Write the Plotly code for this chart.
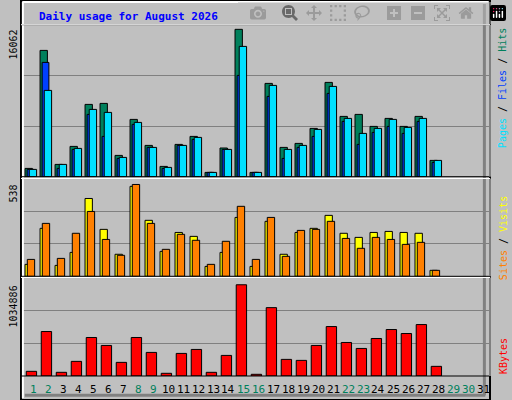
import plotly.graph_objects as go

days = list(range(1, 29))
all_days = list(range(1, 32))
hits = [905, 13767, 1341, 3303, 7881, 7990, 2322, 6246, 3412, 1123, 3521, 4393, 469, 3128, 16062, 469, 10170, 3194, 3630, 5265, 10279, 6573, 6791, 5483, 6355, 5483, 6573, 1777]
files = [796, 12459, 905, 2976, 6791, 4393, 1995, 5701, 3194, 905, 3412, 4066, 469, 2976, 11042, 469, 8753, 1995, 3194, 4393, 9080, 6028, 3521, 4829, 5483, 4720, 6028, 1559]
pages = [796, 9407, 1341, 3085, 7336, 7009, 2104, 5919, 3194, 1014, 3412, 4284, 469, 2976, 14203, 469, 9952, 2976, 3412, 5156, 9843, 6355, 4720, 5265, 6246, 5374, 6355, 1777]
visits = [70, 281, 64, 140, 456, 275, 129, 527, 328, 146, 257, 234, 58, 140, 345, 58, 322, 129, 257, 281, 357, 252, 228, 257, 263, 257, 252, 35]
sites = [99, 310, 105, 252, 380, 216, 123, 538, 310, 158, 246, 211, 70, 205, 410, 99, 345, 117, 269, 275, 322, 222, 164, 228, 216, 187, 199, 35]
kbytes = [53000, 504500, 41800, 165900, 436800, 346500, 154600, 436800, 267500, 30500, 256200, 301300, 41800, 233600, 1034886, 19200, 775400, 188500, 177200, 346500, 560900, 380300, 312600, 425500, 527100, 481900, 583500, 109500]
weekend = {1, 2, 8, 9, 15, 16, 22, 23, 29, 30}

H = 400.0
def dom(top, bot):
    return [1 - bot / H, 1 - top / H]

fig = go.Figure()
line = dict(color="black", width=1)
fig.add_bar(x=days, y=hits, offset=-0.55, width=0.49, marker=dict(color="#00805c", line=line), yaxis="y")
fig.add_bar(x=days, y=files, offset=-0.41, width=0.45, marker=dict(color="#0040ff", line=line), yaxis="y")
fig.add_bar(x=days, y=pages, offset=-0.27, width=0.49, marker=dict(color="#00e0ff", line=line), yaxis="y")
fig.add_bar(x=days, y=visits, offset=-0.55, width=0.49, marker=dict(color="#ffff00", line=line), xaxis="x2", yaxis="y2")
fig.add_bar(x=days, y=sites, offset=-0.4, width=0.49, marker=dict(color="#ff8000", line=line), xaxis="x2", yaxis="y2")
fig.add_bar(x=days, y=kbytes, offset=-0.47, width=0.69, marker=dict(color="#ff0000", line=line), xaxis="x3", yaxis="y3")

xr = [0.18, 31.45]
xcommon = dict(range=xr, showticklabels=False, showgrid=False, zeroline=False, fixedrange=True)
def ycommon(maxv, d):
    return dict(range=[0, maxv], domain=d, tickvals=[maxv / 3, 2 * maxv / 3], showticklabels=False,
                showgrid=True, gridcolor="#808080", gridwidth=1, zeroline=False, ticks="")

y1max, y2max, y3max = 16568, 573, 1117314
fig.update_layout(
    width=512, height=400, autosize=False, showlegend=False, barmode="overlay",
    paper_bgcolor="#c0c0c0", plot_bgcolor="#c0c0c0",
    margin=dict(l=21, r=22, t=0, b=0, autoexpand=False),
    xaxis=dict(**xcommon, anchor="y"),
    xaxis2=dict(**xcommon, anchor="y2", matches="x"),
    xaxis3=dict(**xcommon, anchor="y3", matches="x"),
    yaxis=ycommon(y1max, dom(24.7, 176.7)),
    yaxis2=ycommon(y2max, dom(178.5, 276.3)),
    yaxis3=ycommon(y3max, dom(277.5, 376)),
    font=dict(family="DejaVu Sans Mono", size=10, color="black"),
)

shapes = []
shapes.append(dict(type="rect", xref="paper", yref="paper", x0=0, x1=1, y0=0, y1=1, line=dict(color="black", width=2)))
shapes.append(dict(type="line", xref="paper", yref="paper", x0=0.004, x1=0.996, y0=0.995, y1=0.995, line=dict(color="white", width=2)))
shapes.append(dict(type="line", xref="paper", yref="paper", x0=0.004, x1=0.004, y0=0.005, y1=0.995, line=dict(color="white", width=2)))
shapes.append(dict(type="line", xref="paper", yref="paper", x0=0.008, x1=0.99, y0=0.012, y1=0.012, line=dict(color="#808080", width=3)))
shapes.append(dict(type="line", xref="paper", yref="paper", x0=0.988, x1=0.988, y0=0.012, y1=0.99, line=dict(color="#808080", width=3)))
for ya in ["y", "y2", "y3"]:
    shapes.append(dict(type="rect", xref="x domain", yref=ya + " domain", x0=0, x1=1, y0=0, y1=1,
                       line=dict(color="black", width=1), layer="above"))
    shapes.append(dict(type="line", xref="x domain", yref=ya + " domain", x0=0, x1=1, y0=1, y1=1,
                       line=dict(color="white", width=1), layer="above"))
    shapes.append(dict(type="line", xref="x domain", yref=ya + " domain", x0=1, x1=1, y0=0, y1=1,
                       line=dict(color="white", width=1), layer="above"))
fig.update_layout(shapes=shapes)

ann = []
ann.append(dict(text="<b>Daily usage for August 2026</b>", xref="paper", yref="paper", x=0.035, y=1 - 16 / H,
                xanchor="left", yanchor="middle", showarrow=False, font=dict(color="#0000ff", size=11)))
for d in all_days:
    ann.append(dict(text=str(d), xref="x", yref="paper", x=d, y=1 - 389 / H, xanchor="center", yanchor="middle",
                    showarrow=False, font=dict(size=11, color="#00805c" if d in weekend else "black")))
def lab(txt, ytop):
    return dict(text=txt, xref="paper", yref="paper", x=-0.016, y=1 - ytop / H, xanchor="center", yanchor="top",
                textangle=-90, showarrow=False, font=dict(size=10))
ann.append(lab("16062", 27))
ann.append(lab("538", 182))
ann.append(lab("1034886", 283))
def rlab(txt, ymid):
    return dict(text=txt, xref="paper", yref="paper", x=1.028, y=1 - ymid / H, xanchor="center", yanchor="middle",
                textangle=-90, showarrow=False, font=dict(size=10))
ann.append(rlab('<span style="color:#00e0ff">Pages</span> / <span style="color:#0040ff">Files</span> / <span style="color:#00805c">Hits</span>', 88))
ann.append(rlab('<span style="color:#ff8000">Sites</span> / <span style="color:#ffff00">Visits</span>', 238))
ann.append(dict(text='<span style="color:#ff0000">KBytes</span>', xref="paper", yref="paper", x=1.028, y=1 - 376 / H,
                xanchor="center", yanchor="bottom", textangle=-90, showarrow=False, font=dict(size=10)))
fig.update_layout(annotations=ann)

fig.write_html("out.html", post_script="document.body.style.margin='0';document.body.style.overflow='hidden';")
